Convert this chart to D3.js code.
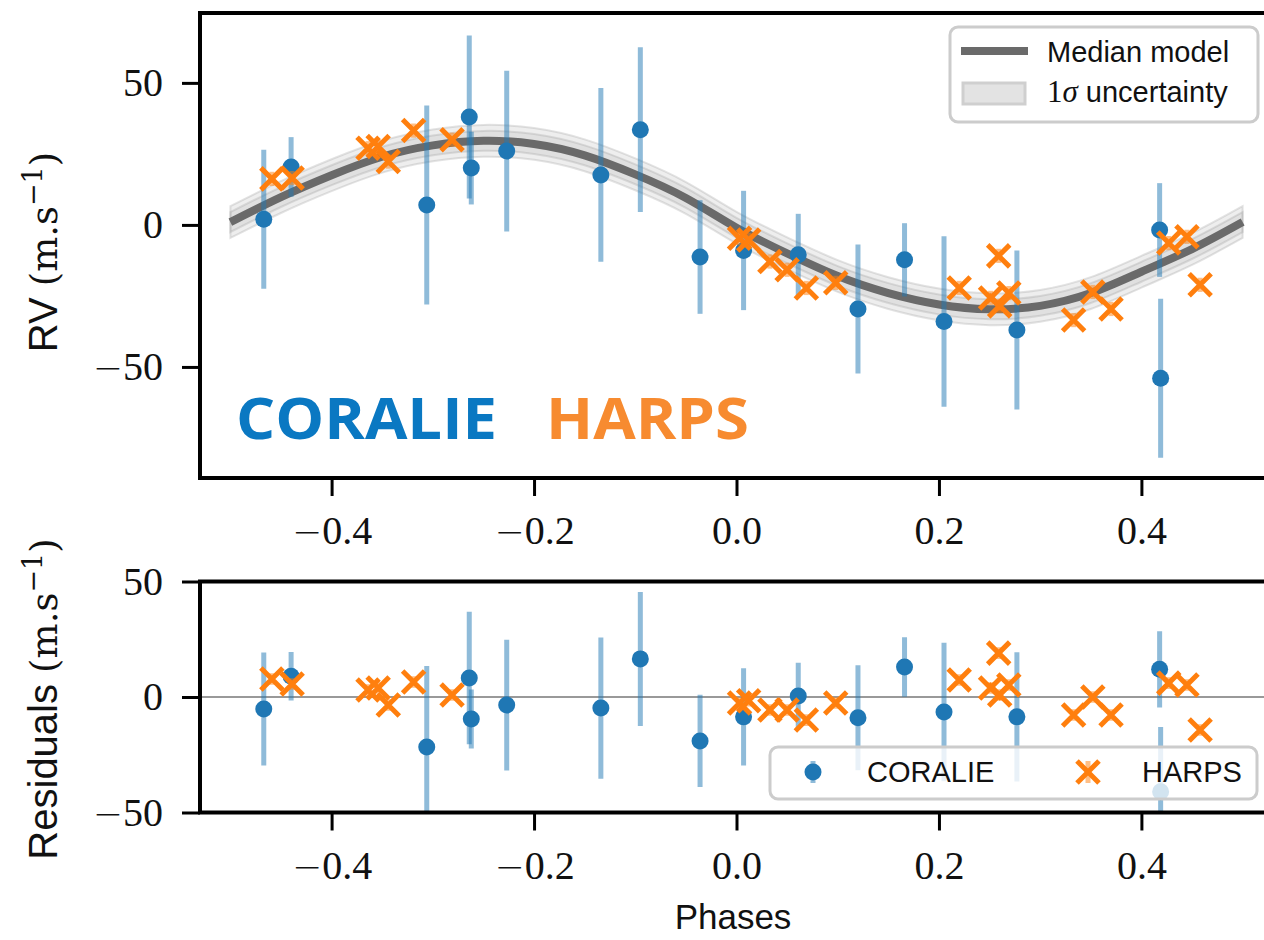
<!DOCTYPE html>
<html>
<head>
<meta charset="utf-8">
<script src="https://cdn.jsdelivr.net/npm/d3@7"></script>
<style>
body { margin: 0; background: #fff; }
</style>
</head>
<body>
<script>
// ---- data ----
// CORALIE (blue dots)
const coraliePhase = [-0.467, -0.440, -0.306, -0.264, -0.262, -0.227, -0.134, -0.095, -0.036, 0.007, 0.061, 0.120, 0.166, 0.205, 0.277, 0.418, 0.419];
const coralieRV    = [2, 20.4, 7, 38, 20, 26, 17.6, 33.5, -11.3, -9, -10.5, -29.6, -12.3, -34, -37, -1.8, -54];
const coralieErr   = [24.5, 10.5, 35, 28.7, 12.8, 28.3, 30.6, 29, 20, 21, 14.4, 22.7, 12.9, 30, 28, 16.5, 28];
const coralieRes   = [-5.2, 9, -21.6, 8.2, -9.5, -3.5, -4.8, 16.5, -19, -8.6, 0.4, -9, 13, -6.5, -8.6, 12, -41];

// HARPS (orange crosses)
const harpsPhase = [-0.459, -0.439, -0.364, -0.354, -0.344, -0.319, -0.281, 0.003, 0.012, 0.033, 0.050, 0.069, 0.098, 0.220, 0.251, 0.259, 0.260, 0.269, 0.333, 0.352, 0.370, 0.427, 0.445, 0.458];
const harpsRV    = [16.2, 16.5, 27, 27.6, 22.3, 33.2, 30, -4.7, -5.3, -12.9, -15.8, -22.2, -20.4, -22.2, -25.7, -10.9, -28.5, -24, -33.5, -23.6, -29.6, -6.4, -4.2, -21.1];
const harpsRes   = [7.8, 5.6, 3, 3.9, -3.5, 6.5, 0.9, -2.6, -1.6, -5.6, -5.6, -10, -2.6, 7.4, 3.9, 19, 0.9, 5.2, -7.8, 0, -7.8, 6, 5.2, -14.3];
const harpsErr   = [2.5, 2.5, 2.5, 2.5, 2.5, 2.5, 2.5, 2.5, 2.5, 2.5, 2.5, 2.5, 2.5, 2.5, 2.5, 2.5, 2.5, 2.5, 2.5, 2.5, 2.5, 2.5, 2.5, 2.5];

// median model, sampled off the grey curve
const modelPhase = [-0.5, -0.45, -0.4, -0.35, -0.3, -0.25, -0.2, -0.15, -0.1, -0.05, 0.0, 0.05, 0.1, 0.15, 0.2, 0.25, 0.3, 0.35, 0.4, 0.45, 0.5];
const modelRV    = [1, 9.8, 17.5, 24, 28, 29.6, 28.5, 24.5, 17.8, 9.5, -1, -10, -18, -24, -28, -29.7, -28.5, -24, -16.5, -8.5, 1];
const bandHalf   = [5.6, 3.5];   // width of the 1 sigma shading (two layers)

const xTicks = [-0.4, -0.2, 0.0, 0.2, 0.4];
const yTicks = [-50, 0, 50];

// ---- layout ----
const W = 1264, H = 940;
const c_blue = "#1f77b4", c_orange = "#ff7f0e";

const svg = d3.select("body").append("svg")
    .attr("width", W).attr("height", H);

const x = d3.scaleLinear().domain([-0.53, 0.53]).range([200, 1273]);
const yTop = d3.scaleLinear().domain([-89.1, 74.6]).range([478, 13]);
const yBot = d3.scaleLinear().domain([-50, 50]).range([812.5, 581.5]);

const defs = svg.append("defs");
defs.append("clipPath").attr("id", "clipTop").append("rect")
    .attr("x", 200).attr("y", 13).attr("width", 1073).attr("height", 465);
defs.append("clipPath").attr("id", "clipBot").append("rect")
    .attr("x", 200).attr("y", 581.5).attr("width", 1073).attr("height", 231);

const gTop = svg.append("g").attr("clip-path", "url(#clipTop)");
const gBot = svg.append("g").attr("clip-path", "url(#clipBot)");

// ---- top panel: model ----
bandHalf.forEach(function(s) {
    gTop.append("path")
        .datum(modelPhase)
        .attr("d", d3.area()
            .curve(d3.curveNatural)
            .x(function(d) { return x(d); })
            .y0(function(d, i) { return yTop(modelRV[i] - s); })
            .y1(function(d, i) { return yTop(modelRV[i] + s); }))
        .attr("fill", "#9a9a9a").attr("fill-opacity", 0.17)
        .attr("stroke", "#9a9a9a").attr("stroke-opacity", 0.28).attr("stroke-width", 2);
});

gTop.append("path")
    .datum(modelPhase)
    .attr("d", d3.line()
        .curve(d3.curveNatural)
        .x(function(d) { return x(d); })
        .y(function(d, i) { return yTop(modelRV[i]); }))
    .attr("fill", "none")
    .attr("stroke", "#6a6a6a")
    .attr("stroke-width", 8);

function drawPoints(g, y, vals, errs, hVals, hErrs) {
    // coralie error bars + dots
    g.selectAll(null).data(coraliePhase).enter().append("line")
        .attr("x1", function(d) { return x(d); })
        .attr("x2", function(d) { return x(d); })
        .attr("y1", function(d, i) { return y(vals[i] - errs[i]); })
        .attr("y2", function(d, i) { return y(vals[i] + errs[i]); })
        .attr("stroke", c_blue).attr("stroke-opacity", 0.5).attr("stroke-width", 5);
    g.selectAll(null).data(coraliePhase).enter().append("circle")
        .attr("cx", function(d) { return x(d); })
        .attr("cy", function(d, i) { return y(vals[i]); })
        .attr("r", 8.5)
        .attr("fill", c_blue);
    // harps error bars + crosses
    g.selectAll(null).data(harpsPhase).enter().append("line")
        .attr("x1", function(d) { return x(d); })
        .attr("x2", function(d) { return x(d); })
        .attr("y1", function(d, i) { return y(hVals[i] - hErrs[i]); })
        .attr("y2", function(d, i) { return y(hVals[i] + hErrs[i]); })
        .attr("stroke", c_orange).attr("stroke-opacity", 0.5).attr("stroke-width", 5);
    g.selectAll(null).data(harpsPhase).enter().append("path")
        .attr("transform", function(d, i) { return `translate(${x(d)},${y(hVals[i])})`; })
        .attr("d", "M-11,-11L11,11M-11,11L11,-11")
        .attr("stroke", c_orange).attr("stroke-width", 5).attr("fill", "none");
}

drawPoints(gTop, yTop, coralieRV, coralieErr, harpsRV, harpsErr);

// ---- bottom panel ----
gBot.append("line")
    .attr("x1", 200).attr("x2", 1273)
    .attr("y1", yBot(0)).attr("y2", yBot(0))
    .attr("stroke", "#999").attr("stroke-width", 2);
drawPoints(gBot, yBot, coralieRes, coralieErr, harpsRes, harpsErr);

// ---- frames & axes ----
const tickFmtX = function(d) { return d3.format(".1f")(d); };

function frame(top, bottom) {
    svg.append("rect")
        .attr("x", 200).attr("y", top)
        .attr("width", 1073).attr("height", bottom - top)
        .attr("fill", "none").attr("stroke", "#000").attr("stroke-width", 4);
}
frame(13, 478);
frame(581.5, 812.5);

function styleAxis(g) {
    g.select(".domain").remove();
    g.selectAll(".tick line").attr("stroke", "#000").attr("stroke-width", 3);
    g.selectAll(".tick text")
        .attr("fill", "#111")
        .style("font-family", "'Liberation Serif', 'DejaVu Serif', serif")
        .style("font-size", "40px")
        .each(function() {
            // the TeX minus is longer than the serif one: borrow a wider glyph
            const t = d3.select(this), s = t.text();
            if (s.charAt(0) === "−") {
                t.text(null);
                t.append("tspan").style("font-family", "'DejaVu Sans', sans-serif")
                    .style("font-size", "36px").style("font-weight", 300).text("−");
                t.append("tspan").text(s.slice(1));
            }
        });
}

svg.append("g").attr("transform", "translate(0,478)")
    .call(d3.axisBottom(x).tickValues(xTicks).tickSize(18).tickPadding(20).tickFormat(tickFmtX))
    .call(styleAxis);
svg.append("g").attr("transform", "translate(0,812.5)")
    .call(d3.axisBottom(x).tickValues(xTicks).tickSize(18).tickPadding(20).tickFormat(tickFmtX))
    .call(styleAxis);
svg.append("g").attr("transform", "translate(200,0)")
    .call(d3.axisLeft(yTop).tickValues(yTicks).tickSize(18).tickPadding(19))
    .call(styleAxis);
svg.append("g").attr("transform", "translate(200,0)")
    .call(d3.axisLeft(yBot).tickValues(yTicks).tickSize(18).tickPadding(19))
    .call(styleAxis);

// axis labels
function yLabel(cx, cy, word) {
    const t = svg.append("text")
        .attr("transform", `translate(${cx},${cy}) rotate(-90)`)
        .attr("text-anchor", "middle")
        .attr("fill", "#111")
        .style("font-size", "40px");
    t.append("tspan").style("font-family", "'Liberation Sans', sans-serif").text(word + " ");
    t.append("tspan").style("font-family", "'DejaVu Serif', serif").style("font-size", "37px").text("(m.s");
    t.append("tspan").attr("baseline-shift", "super").style("font-family", "'DejaVu Serif', serif")
        .style("font-size", "27px").text("−1");
    t.append("tspan").style("font-family", "'DejaVu Serif', serif").style("font-size", "37px").text(")");
}
yLabel(57, 252, "RV");
yLabel(57, 699, "Residuals");

svg.append("text")
    .attr("x", 733).attr("y", 929)
    .attr("text-anchor", "middle")
    .attr("fill", "#111")
    .style("font-family", "'Liberation Sans', sans-serif")
    .style("font-size", "35px")
    .text("Phases");

// ---- instrument names on the top panel ----
svg.append("text")
    .attr("x", 236).attr("y", 439)
    .attr("textLength", 261).attr("lengthAdjust", "spacingAndGlyphs")
    .attr("fill", "#0a78c2")
    .style("font-family", "'Open Sans', 'Liberation Sans', sans-serif")
    .style("font-weight", 700).style("font-size", "57px")
    .text("CORALIE");
svg.append("text")
    .attr("x", 546).attr("y", 439)
    .attr("textLength", 203).attr("lengthAdjust", "spacingAndGlyphs")
    .attr("fill", "#f78b30")
    .style("font-family", "'Open Sans', 'Liberation Sans', sans-serif")
    .style("font-weight", 700).style("font-size", "57px")
    .text("HARPS");

// ---- legends ----
const lgFont = "'Liberation Sans', sans-serif";
const lgTop = svg.append("g");
lgTop.append("rect")
    .attr("x", 950).attr("y", 27).attr("width", 308).attr("height", 95).attr("rx", 8)
    .attr("fill", "#fff").attr("fill-opacity", 0.8)
    .attr("stroke", "#cccccc").attr("stroke-width", 3);
lgTop.append("line")
    .attr("x1", 961).attr("x2", 1028).attr("y1", 51).attr("y2", 51)
    .attr("stroke", "#6a6a6a").attr("stroke-width", 8);
lgTop.append("rect")
    .attr("x", 963).attr("y", 83).attr("width", 62).attr("height", 21)
    .attr("fill", "#e3e3e3").attr("stroke", "#cfcfcf").attr("stroke-width", 3);
lgTop.append("text")
    .attr("x", 1047).attr("y", 62).attr("fill", "#111")
    .style("font-family", lgFont).style("font-size", "29px")
    .text("Median model");
const sig = lgTop.append("text")
    .attr("x", 1047).attr("y", 102).attr("fill", "#111")
    .style("font-size", "29px");
sig.append("tspan").style("font-family", "'Liberation Serif', serif").style("font-size", "31px").text("1");
sig.append("tspan").style("font-family", "'Liberation Serif', serif").style("font-style", "italic").style("font-size", "31px").text("σ");
sig.append("tspan").style("font-family", lgFont).text(" uncertainty");

const lgBot = svg.append("g");
lgBot.append("rect")
    .attr("x", 770).attr("y", 747).attr("width", 487).attr("height", 52).attr("rx", 8)
    .attr("fill", "#fff").attr("fill-opacity", 0.8)
    .attr("stroke", "#cccccc").attr("stroke-width", 3);
lgBot.append("line")
    .attr("x1", 813).attr("x2", 813).attr("y1", 761).attr("y2", 783)
    .attr("stroke", c_blue).attr("stroke-opacity", 0.5).attr("stroke-width", 5);
lgBot.append("circle").attr("cx", 813).attr("cy", 772).attr("r", 8.5).attr("fill", c_blue);
lgBot.append("text")
    .attr("x", 867).attr("y", 782).attr("fill", "#111")
    .style("font-family", lgFont).style("font-size", "29px")
    .text("CORALIE");
lgBot.append("line")
    .attr("x1", 1088).attr("x2", 1088).attr("y1", 761).attr("y2", 783)
    .attr("stroke", c_orange).attr("stroke-opacity", 0.5).attr("stroke-width", 5);
lgBot.append("path")
    .attr("transform", "translate(1088,772)")
    .attr("d", "M-11,-11L11,11M-11,11L11,-11")
    .attr("stroke", c_orange).attr("stroke-width", 5).attr("fill", "none");
lgBot.append("text")
    .attr("x", 1142).attr("y", 782).attr("fill", "#111")
    .style("font-family", lgFont).style("font-size", "29px")
    .text("HARPS");
</script>
</body>
</html>
